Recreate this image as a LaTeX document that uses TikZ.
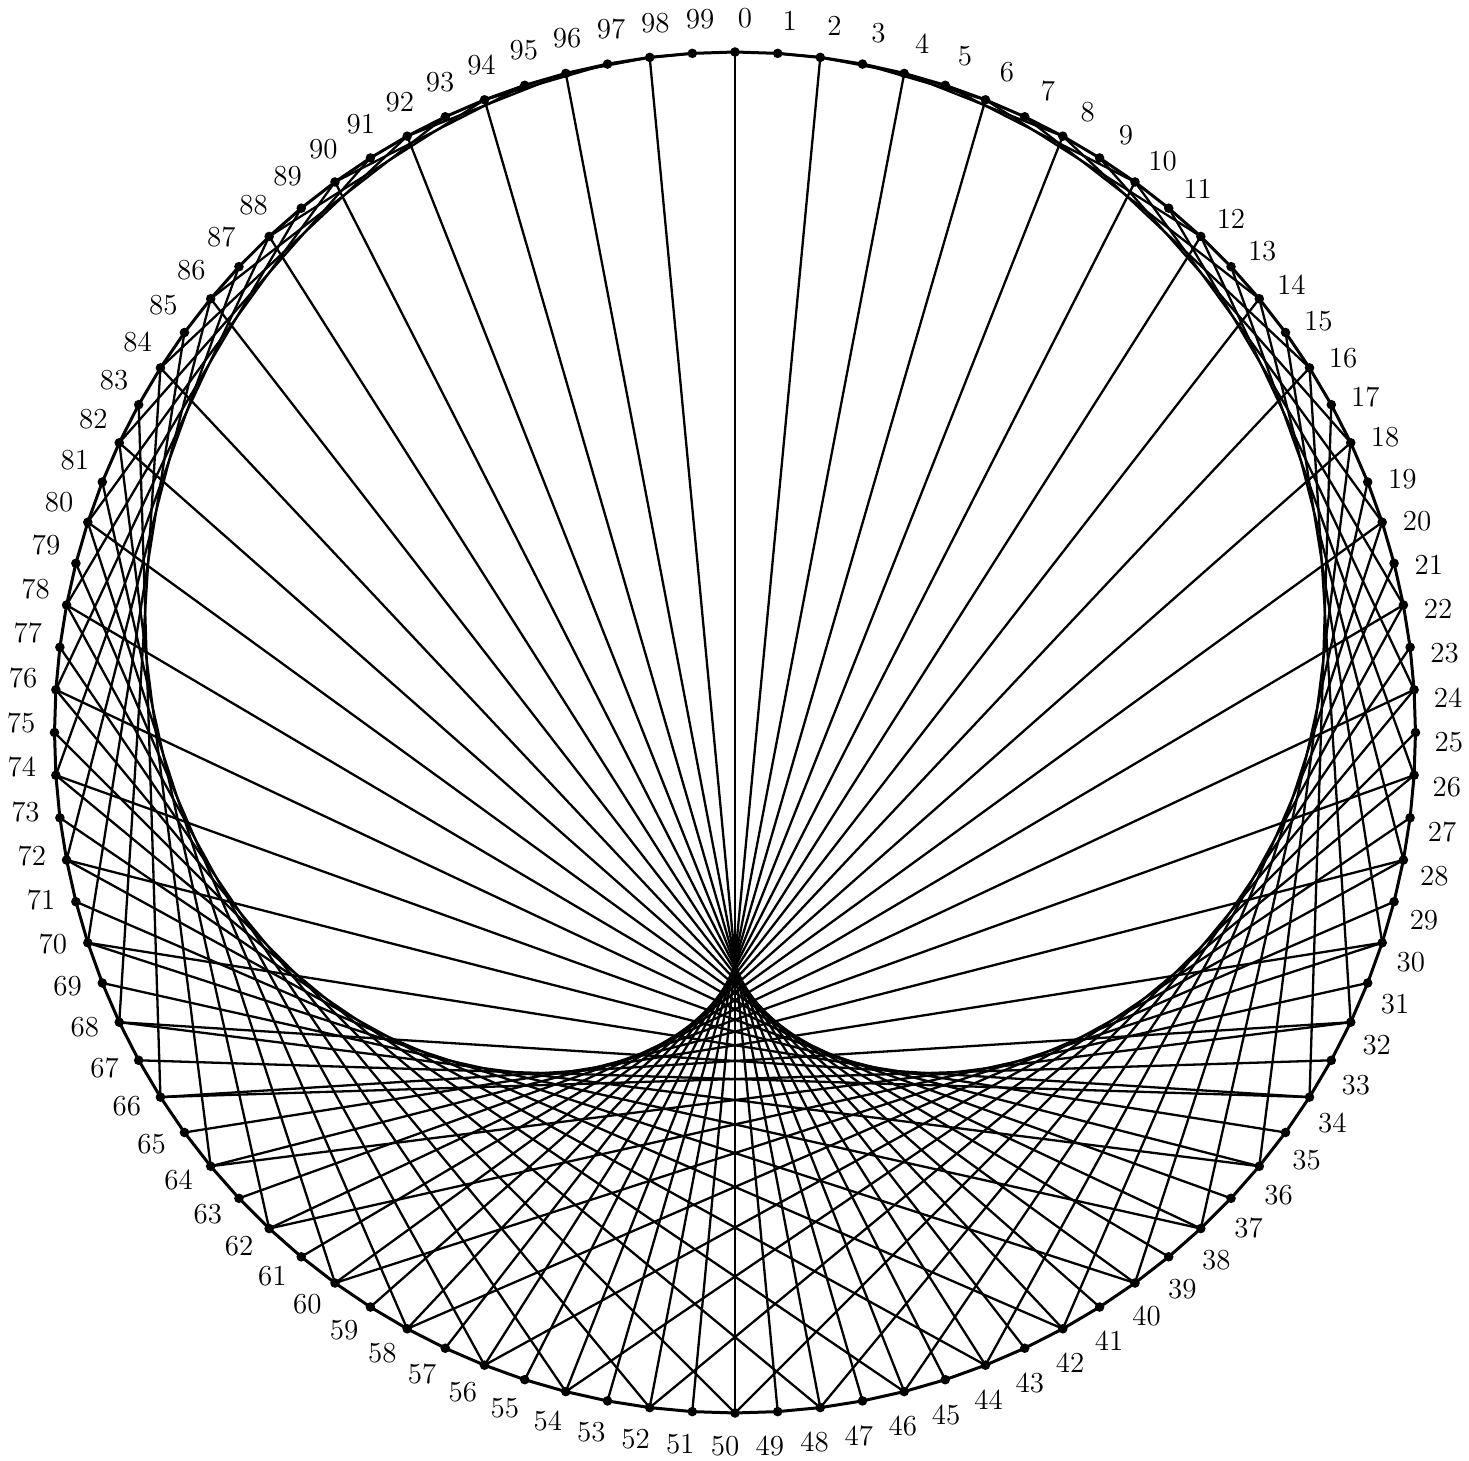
\documentclass[tikz,border=0pt]{standalone}
\begin{document}
\begin{tikzpicture}[x=0.5pt,y=0.5pt,
  dot/.style={circle,fill=black,inner sep=0pt,minimum size=4.8pt},
  chord/.style={line width=1.15pt,black},
  rim/.style={line width=1.5pt,black,line join=round},
  lbl/.style={inner sep=0pt,font=\fontsize{14.5}{16}\selectfont}]
\useasboundingbox (-735,-728.5) rectangle (734,732.5);
\foreach \k in {0,...,99}{
  \coordinate (c\k) at ({90-3.6*\k}:680.5);
}
\draw[rim] (c0) \foreach \k in {1,...,99}{ -- (c\k)} -- cycle;
\foreach \k in {1,...,99}{
  \pgfmathtruncatemacro\m{mod(2*\k,100)}
  \draw[chord] (c\k) -- (c\m);
}
\foreach \k in {0,...,99}{
  \node[dot] (p\k) at (c\k) {};
  \node[lbl] (l\k) at ({90-3.6*\k-0.8}:714) {\k};
}
\end{tikzpicture}
\end{document}
